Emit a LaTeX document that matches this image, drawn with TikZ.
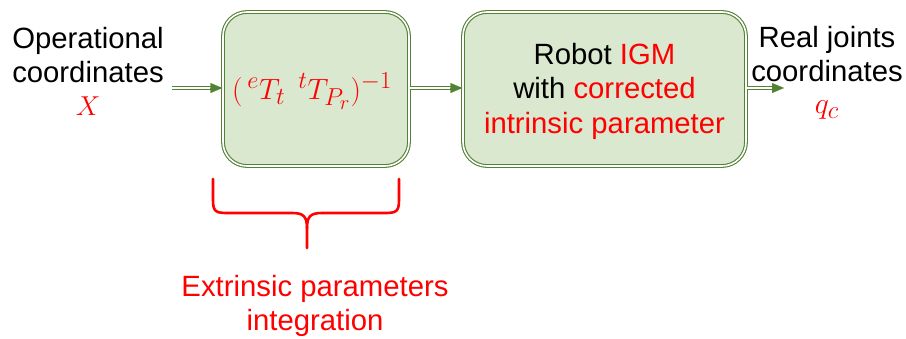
\documentclass[tikz,border=0pt]{standalone}
\usepackage{graphicx}
\usepackage{fontspec}
\setmainfont{Liberation Sans}
\usetikzlibrary{arrows.meta,calc}
\definecolor{gline}{HTML}{548235}
\definecolor{gfill}{HTML}{DAE8CF}
\definecolor{rtext}{HTML}{FF0000}
\newcommand{\bigmath}[2]{\scalebox{#1}{\fontsize{24.88}{30}\selectfont$#2$}}
\begin{document}
\begin{tikzpicture}[x=1pt,y=-1pt,
  lbl/.style={font=\fontsize{29.3}{34.5}\selectfont, align=center, inner sep=0pt},
  blockbox/.style={draw=gline, double=white, double distance=1.6pt, line width=1.1pt,
     fill=gfill, rounded corners=24pt, inner sep=0pt},
  dblshaft/.style={draw=gline, double=white, double distance=1.6pt, line width=1.1pt, shorten >=9pt},
  tipend/.style={draw=gline, fill=gline, line width=0.1pt, -{Triangle[length=12pt,width=10pt]}},
  bracestyle/.style={draw=rtext, line width=2.6pt, line cap=round}]
\useasboundingbox (0,0) rectangle (906,338);

% boxes
\node[blockbox, minimum width=186pt, minimum height=154pt] (b1) at (316,89) {};
\node[blockbox, minimum width=283pt, minimum height=154pt] (b2) at (604.5,89) {};

\node[lbl, text=rtext] (m1) at (312,91) {\bigmath{1.18}{(\,{}^{e}T_{t}\;\,{}^{t}T_{P_r})^{-1}}};
\node[lbl] (t2) at (604.5,91) {Robot \textcolor{rtext}{IGM}\\with \textcolor{rtext}{corrected}\\\textcolor{rtext}{intrinsic parameter}};

% left label
\node[lbl] (opl) at (88,55) {Operational\\coordinates};
\node[lbl, text=rtext] (X) at (88,106) {\bigmath{1.1}{X}};
% right label
\node[lbl] (rjl) at (827,54) {Real joints\\coordinates};
\node[lbl, text=rtext] (qc) at (827,110) {\bigmath{1.2}{q_c}};

\coordinate (in1) at (172,88);
\coordinate (out1) at (784,88);

% arrows
\draw[dblshaft] (in1) -- (in1 -| b1.west);
\draw[tipend] ($(in1 -| b1.west)+(-10,0)$) -- (in1 -| b1.west);
\draw[dblshaft] (in1 -| b1.east) -- (in1 -| b2.west);
\draw[tipend] ($(in1 -| b2.west)+(-10,0)$) -- (in1 -| b2.west);
\draw[dblshaft] (in1 -| b2.east) -- (out1);
\draw[tipend] ($(out1)+(-10,0)$) -- (out1);

% brace
\draw[bracestyle] (213,179) -- (213,200) .. controls (213,212) and (216,213) .. (228,213)
  -- (292,213) .. controls (303,213) and (307,216) .. (307,228) -- (307,248);
\draw[bracestyle] (399,179) -- (399,200) .. controls (399,212) and (396,213) .. (384,213)
  -- (322,213) .. controls (311,213) and (307,216) .. (307,228);

\node[lbl, text=rtext] (ext) at (315,306) {Extrinsic parameters\\integration};
\end{tikzpicture}
\end{document}
